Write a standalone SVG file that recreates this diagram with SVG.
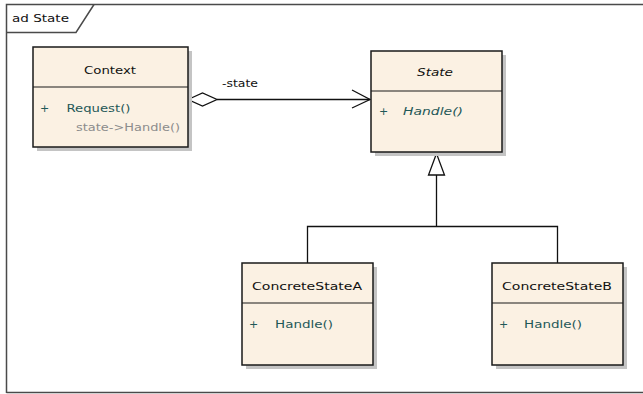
<svg xmlns="http://www.w3.org/2000/svg" width="643" height="394" viewBox="0 0 643 394">
<style>
text{font-family:"DejaVu Sans","Liberation Sans",sans-serif;font-size:11px;fill:#111}
.frame{fill:none;stroke:#4a4a4a;stroke-width:1.5}
.box{fill:#FBF1E3;stroke:#1a1a1a;stroke-width:1.5}
.shadow{fill:#c4c4c4}
.div{stroke:#1a1a1a;stroke-width:1.2}
.op{fill:#1f5858}
.note{fill:#8c8c8c}
.edge{fill:none;stroke:#111;stroke-width:1.3}
</style>
<rect width="643" height="394" fill="#fff"/>
<g id="frame">
<path class="frame" d="M6.5,393V4.5H643M6.5,392.5H643"/>
<path class="frame" d="M6.5,32.5H76L94,4.5"/>
<text x="12" y="22" textLength="57" lengthAdjust="spacingAndGlyphs">ad State</text>
</g>
<g id="connectors">
<path class="edge" d="M217,99.5H370"/>
<path class="edge" d="M352,90L370,99.5L352,108"/>
<path class="edge" d="M188,99.5L202.5,93L217,99.5L202.5,106Z" fill="#fff"/>
<text x="222" y="87" textLength="36" lengthAdjust="spacingAndGlyphs">-state</text>
<path class="edge" d="M436.5,175V226.5M307.5,263V226.5H557.5V263"/>
<path class="edge" d="M436.5,153.5L428.5,175H444.5Z" fill="#FBF1E3"/>
</g>
<g id="Context">
<rect class="shadow" x="37" y="51" width="155" height="100"/>
<rect class="box" x="33" y="47" width="155" height="100"/>
<line class="div" x1="33" y1="87" x2="188" y2="87"/>
<text x="84" y="74" textLength="52" lengthAdjust="spacingAndGlyphs">Context</text>
<text class="op" x="40" y="112">+</text>
<text class="op" x="66.5" y="112" textLength="64" lengthAdjust="spacingAndGlyphs">Request()</text>
<text class="note" x="76" y="131" textLength="104" lengthAdjust="spacingAndGlyphs">state-&gt;Handle()</text>
</g>
<g id="State">
<rect class="shadow" x="375" y="55" width="131" height="101"/>
<rect class="box" x="371" y="51" width="131" height="101"/>
<line class="div" x1="371" y1="91" x2="502" y2="91"/>
<text x="417" y="76" font-style="italic" textLength="36" lengthAdjust="spacingAndGlyphs">State</text>
<text class="op" x="379" y="115" font-style="italic">+</text>
<text class="op" x="403" y="115" font-style="italic" textLength="60" lengthAdjust="spacingAndGlyphs">Handle()</text>
</g>
<g id="ConcreteStateA">
<rect class="shadow" x="246" y="267" width="131" height="102"/>
<rect class="box" x="242" y="263" width="131" height="102"/>
<line class="div" x1="242" y1="303" x2="373" y2="303"/>
<text x="252" y="290" textLength="110" lengthAdjust="spacingAndGlyphs">ConcreteStateA</text>
<text class="op" x="249" y="328">+</text>
<text class="op" x="275" y="328" textLength="58" lengthAdjust="spacingAndGlyphs">Handle()</text>
</g>
<g id="ConcreteStateB">
<rect class="shadow" x="496" y="267" width="131" height="102"/>
<rect class="box" x="492" y="263" width="131" height="102"/>
<line class="div" x1="492" y1="303" x2="623" y2="303"/>
<text x="502" y="290" textLength="110" lengthAdjust="spacingAndGlyphs">ConcreteStateB</text>
<text class="op" x="499" y="328">+</text>
<text class="op" x="524" y="328" textLength="58" lengthAdjust="spacingAndGlyphs">Handle()</text>
</g>
</svg>
